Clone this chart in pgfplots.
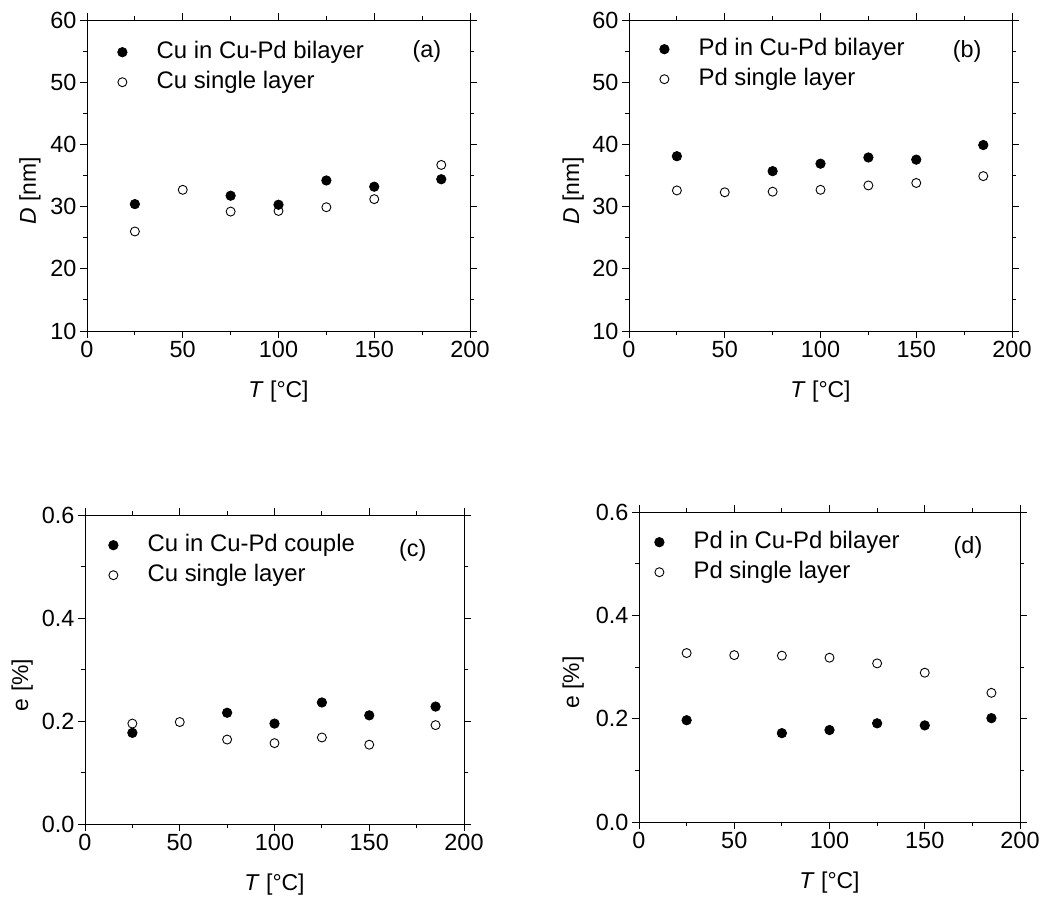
\documentclass[border=0pt]{standalone}
\usepackage{pgfplots}
\pgfplotsset{compat=1.18}
\usepackage{fontspec}
\setmainfont{Liberation Sans}

\pgfplotstableread{
x y
25 30.4
75 31.75
100 30.3
125 34.2
150 33.2
185 34.4
}\aFilled
\pgfplotstableread{
x y
25 26.0
50 32.7
75 29.2
100 29.3
125 29.9
150 31.2
185 36.7
}\aOpen
\pgfplotstableread{
x y
25 38.1
75 35.7
100 36.9
125 37.9
150 37.55
185 39.9
}\bFilled
\pgfplotstableread{
x y
25 32.6
50 32.3
75 32.4
100 32.7
125 33.4
150 33.8
185 34.9
}\bOpen
\pgfplotstableread{
x y
25 0.177
75 0.216
100 0.195
125 0.236
150 0.211
185 0.228
}\cFilled
\pgfplotstableread{
x y
25 0.195
50 0.198
75 0.164
100 0.157
125 0.168
150 0.154
185 0.192
}\cOpen
\pgfplotstableread{
x y
25 0.197
75 0.172
100 0.178
125 0.191
150 0.187
185 0.201
}\dFilled
\pgfplotstableread{
x y
25 0.327
50 0.323
75 0.322
100 0.318
125 0.307
150 0.289
185 0.250
}\dOpen

\tikzset{plabel/.style={font=\fontsize{23.5}{27}\selectfont}}

\pgfplotsset{
  panel/.style={
    width=383bp, height=311bp, scale only axis,
    anchor=north west,
    xmin=0, xmax=200, xtick={0,50,100,150,200},
    minor tick num=1,
    tick align=outside,
    major tick length=7bp, minor tick length=4bp,
    axis line style={line width=1bp},
    every tick/.style={black, line width=0.9bp},
    tick label style={font=\fontsize{23.5}{27}\selectfont},
    /pgf/number format/assume math mode=true,
    label style={font=\fontsize{23}{27}\selectfont},
    xlabel={\textit{T} [°C]},
    xlabel style={at={(axis description cs:0.5,0)}, anchor=center, yshift=-61bp},
    legend cell align=left,
    legend style={draw=none, fill=none, font=\fontsize{24}{28}\selectfont,
      inner xsep=0pt, inner ysep=0pt, row sep=6bp,
      nodes={inner xsep=0pt, inner ysep=1bp, text height=17bp, text depth=5bp},
      anchor=north west},
    legend image code/.code={\path (-5bp,0bp) (34bp,0bp); \draw[##1] plot coordinates {(0bp,0bp)};},
  },
  filled/.style={only marks, mark=*, mark size=4.7bp, mark options={draw=black, fill=black, line width=0.8bp}},
  open/.style={only marks, mark=o, mark size=4.5bp, mark options={draw=black, fill=white, line width=0.9bp}},
}

\begin{document}
\begin{tikzpicture}
\useasboundingbox (0,0) rectangle (1044bp,-897bp);

% (a)
\begin{axis}[panel, at={(87bp,-20bp)},
  ymin=10, ymax=60, ytick={10,20,30,40,50,60},
  ylabel={\textit{D} [nm]},
  ylabel style={at={(axis description cs:-0.149,0.45)}, anchor=center},
  legend style={at={(axis description cs:0,1)}, xshift=30bp, yshift=-20bp}]
\addplot[filled] table {\aFilled};
\addlegendentry{Cu in Cu-Pd bilayer}
\addplot[open] table {\aOpen};
\addlegendentry{Cu single layer}
\node[plabel] at (axis cs:177.5,54.9) {(a)};
\end{axis}

% (b)
\begin{axis}[panel, at={(629bp,-20bp)},
  ymin=10, ymax=60, ytick={10,20,30,40,50,60},
  ylabel={\textit{D} [nm]},
  ylabel style={at={(axis description cs:-0.146,0.45)}, anchor=center},
  legend style={at={(axis description cs:0,1)}, xshift=30bp, yshift=-17bp}]
\addplot[filled] table {\bFilled};
\addlegendentry{Pd in Cu-Pd bilayer}
\addplot[open] table {\bOpen};
\addlegendentry{Pd single layer}
\node[plabel] at (axis cs:176.6,54.9) {(b)};
\end{axis}

% (c)
\begin{axis}[panel, at={(85bp,-515bp)}, width=379bp, height=309bp,
  ymin=0, ymax=0.6, ytick={0,0.2,0.4,0.6},
  yticklabel style={/pgf/number format/.cd, fixed, fixed zerofill, precision=1},
  ylabel={e [\%]},
  ylabel style={at={(axis description cs:-0.166,0.45)}, anchor=center},
  legend style={at={(axis description cs:0,1)}, xshift=23bp, yshift=-18bp}]
\addplot[filled] table {\cFilled};
\addlegendentry{Cu in Cu-Pd couple}
\addplot[open] table {\cOpen};
\addlegendentry{Cu single layer}
\node[plabel] at (axis cs:173,0.532) {(c)};
\end{axis}

% (d)
\begin{axis}[panel, at={(639bp,-512bp)}, width=381bp, height=310bp,
  ymin=0, ymax=0.6, ytick={0,0.2,0.4,0.6},
  yticklabel style={/pgf/number format/.cd, fixed, fixed zerofill, precision=1},
  ylabel={e [\%]},
  ylabel style={at={(axis description cs:-0.173,0.45)}, anchor=center},
  legend style={at={(axis description cs:0,1)}, xshift=15bp, yshift=-18bp}]
\addplot[filled] table {\dFilled};
\addlegendentry{Pd in Cu-Pd bilayer}
\addplot[open] table {\dOpen};
\addlegendentry{Pd single layer}
\node[plabel] at (axis cs:172.7,0.532) {(d)};
\end{axis}
\end{tikzpicture}
\end{document}
